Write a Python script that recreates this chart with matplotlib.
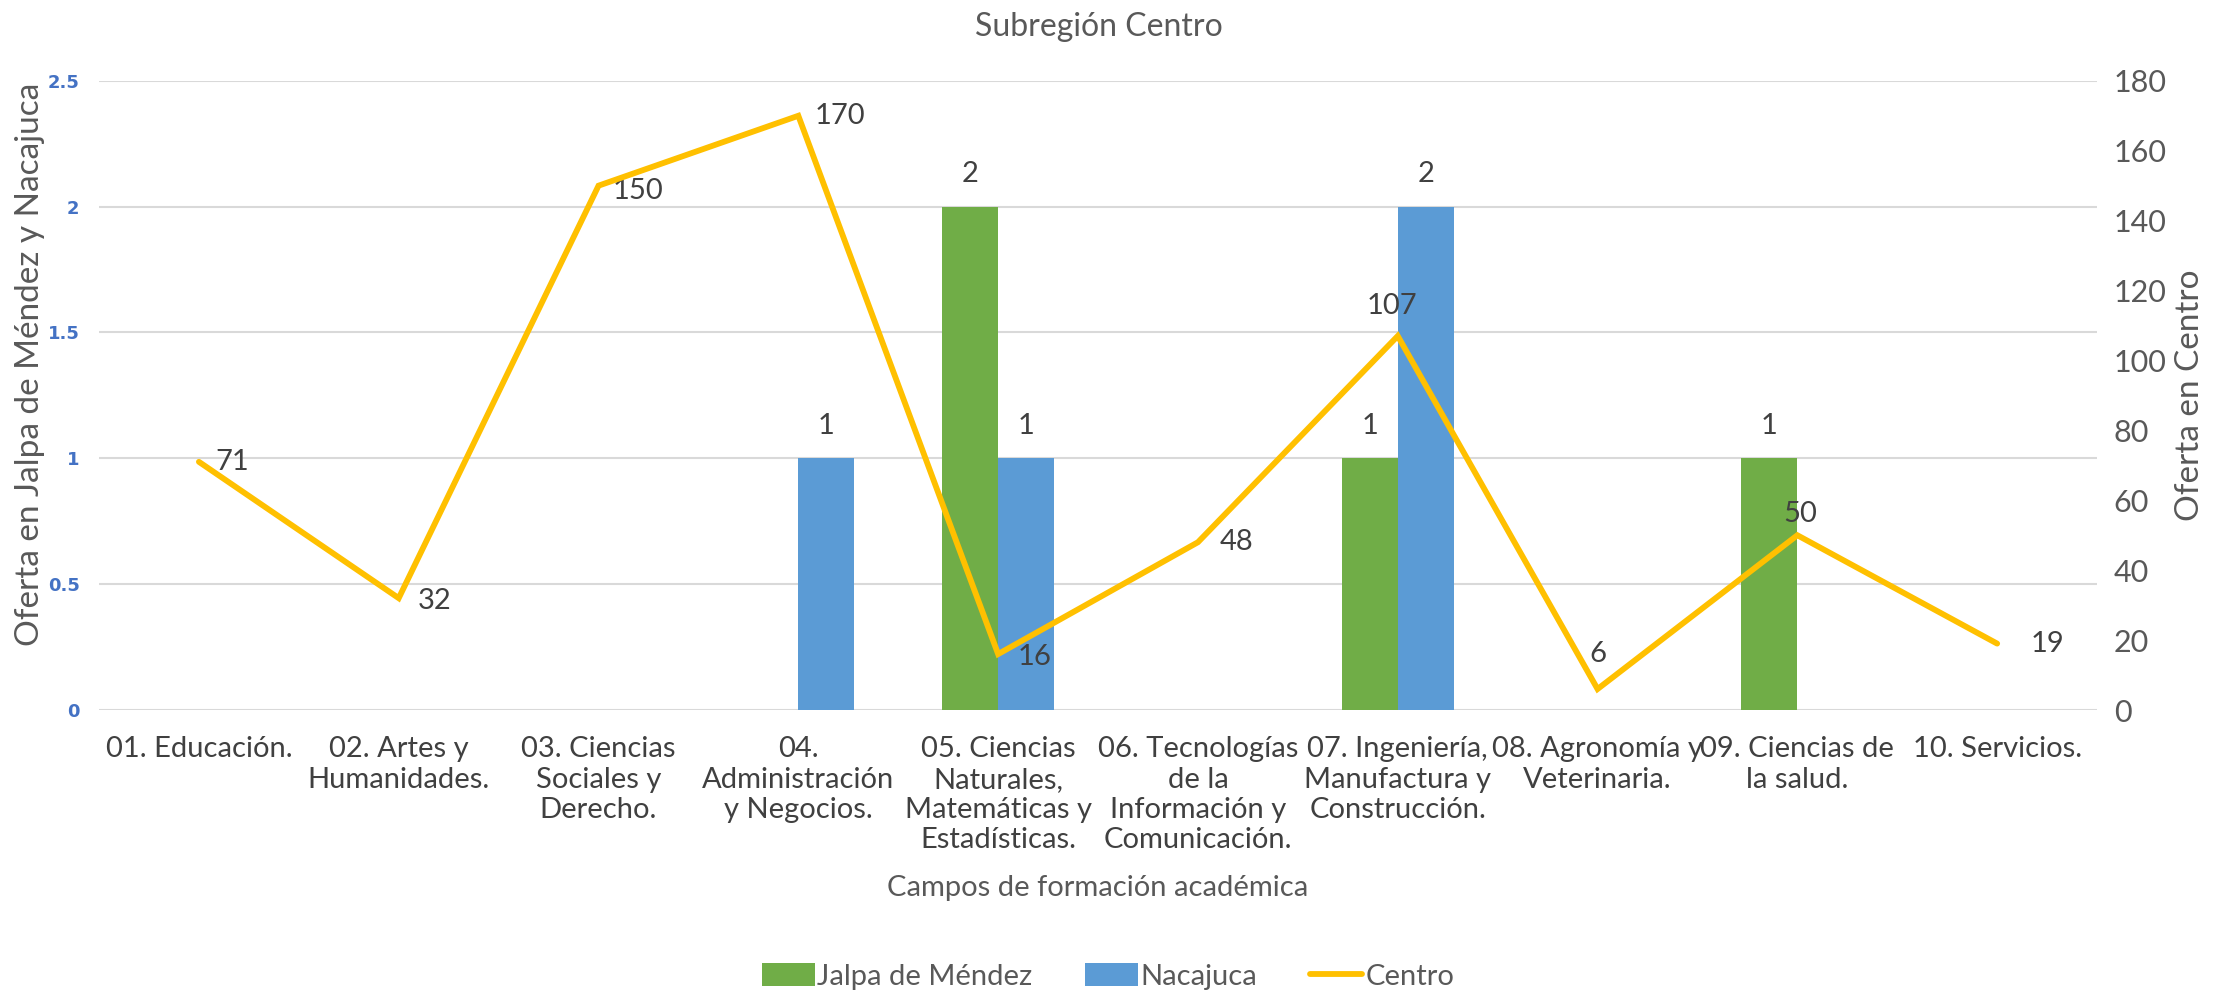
import matplotlib.pyplot as plt
import numpy as np

# ---------- data ----------
categorias = ["01. Educación.", "02. Artes y\nHumanidades.", "03. Ciencias\nSociales y\nDerecho.",
              "04.\nAdministración\ny Negocios.", "05. Ciencias\nNaturales,\nMatemáticas y\nEstadísticas.",
              "06. Tecnologías\nde la\nInformación y\nComunicación.", "07. Ingeniería,\nManufactura y\nConstrucción.",
              "08. Agronomía y\nVeterinaria.", "09. Ciencias de\nla salud.", "10. Servicios."]
jalpa = [0, 0, 0, 0, 2, 0, 1, 0, 1, 0]
nacajuca = [0, 0, 0, 1, 1, 0, 2, 0, 0, 0]
centro = [71, 32, 150, 170, 16, 48, 107, 6, 50, 19]
left_ticks = [0, 0.5, 1, 1.5, 2, 2.5]
left_ticklabels = ["0", "0.5", "1", "1.5", "2", "2.5"]
right_ticks = [0, 20, 40, 60, 80, 100, 120, 140, 160, 180]

# where each Centro value label sits (offset in points, ha, va)
centro_lbl = [(12, 0, "left", "center"), (14, -2, "left", "center"), (10, -4, "left", "center"),
              (12, 0, "left", "center"), (14, -2, "left", "center"), (16, 0, "left", "center"),
              (-4, 12, "center", "bottom"), (0, 16, "center", "bottom"), (2, 6, "center", "bottom"),
              (24, 0, "left", "center")]

green = "#70AD47"
blue = "#5B9BD5"
gold = "#FFC000"
txt = "#404040"
grey = "#595959"
fnt = "Lato"

fig = plt.figure(figsize=(22.25, 9.94), dpi=100)
fig.patch.set_facecolor("white")

ax = fig.add_axes([0.0445, 0.2857, 0.898, 0.633])
x = np.arange(len(categorias))
w = 0.28
b1 = ax.bar(x - w / 2, jalpa, w, color=green, label="Jalpa de Méndez", zorder=3)
b2 = ax.bar(x + w / 2, nacajuca, w, color=blue, label="Nacajuca", zorder=3)
ax.set_ylim(0, 2.5)
ax.set_xlim(-0.5, len(categorias) - 0.5)
ax.set_yticks(left_ticks)
ax.set_yticklabels(left_ticklabels, color="#4472C4", fontweight="bold", fontsize=13, family="DejaVu Sans")
ax.set_xticks(x)
ax.set_xticklabels(categorias, fontsize=21, color=txt, family=fnt, linespacing=1.2)
ax.tick_params(length=0)
ax.tick_params(axis="y", pad=14)
ax.tick_params(axis="x", pad=19)
ax.grid(axis="y", color="#D9D9D9", linewidth=1.5, zorder=0)
for sp in ax.spines.values():
    sp.set_visible(False)

for bars, vals in [(b1, jalpa), (b2, nacajuca)]:
    for r, v in zip(bars, vals):
        if v:
            ax.annotate(str(v), (r.get_x() + r.get_width() / 2, v), xytext=(0, 14),
                        textcoords="offset points", ha="center", va="bottom",
                        fontsize=21, color=txt, family=fnt)

ax2 = ax.twinx()
ln, = ax2.plot(x, centro, color=gold, linewidth=4.2, label="Centro", zorder=4,
               solid_capstyle="round", solid_joinstyle="miter")
ax2.set_ylim(0, 180)
ax2.set_yticks(right_ticks)
ax2.set_yticklabels([str(t) for t in right_ticks], fontsize=22, color=grey, family=fnt)
ax2.tick_params(length=0, pad=12)
for sp in ax2.spines.values():
    sp.set_visible(False)
for xi, v, (dx, dy, ha, va) in zip(x, centro, centro_lbl):
    ax2.annotate(str(v), (xi, v), xytext=(dx, dy), textcoords="offset points",
                 ha=ha, va=va, fontsize=21, color=txt, family=fnt)

ax.set_ylabel("Oferta en Jalpa de Méndez y Nacajuca", fontsize=24, color=grey,
              family=["Liberation Sans Narrow", "Lato"])
ax.yaxis.set_label_coords(-0.027, 0.55)
ax2.set_ylabel("Oferta en Centro", fontsize=24, color=grey, family=fnt, labelpad=6)
ax.set_xlabel("Campos de formación académica", fontsize=21, color=grey, family=fnt, labelpad=16)
fig.text(0.494, 0.988, "Subregión Centro", fontsize=23, color=grey, family=fnt, ha="center", va="top")

fig.legend([b1, b2, ln], ["Jalpa de Méndez", "Nacajuca", "Centro"], loc="lower center",
           bbox_to_anchor=(0.498, -0.022), ncol=3, frameon=False,
           prop={"family": fnt, "size": 21}, handlelength=1.8, handleheight=0.8,
           columnspacing=1.8, handletextpad=0.1, labelcolor=grey)

fig.savefig("out.png", dpi=100)
